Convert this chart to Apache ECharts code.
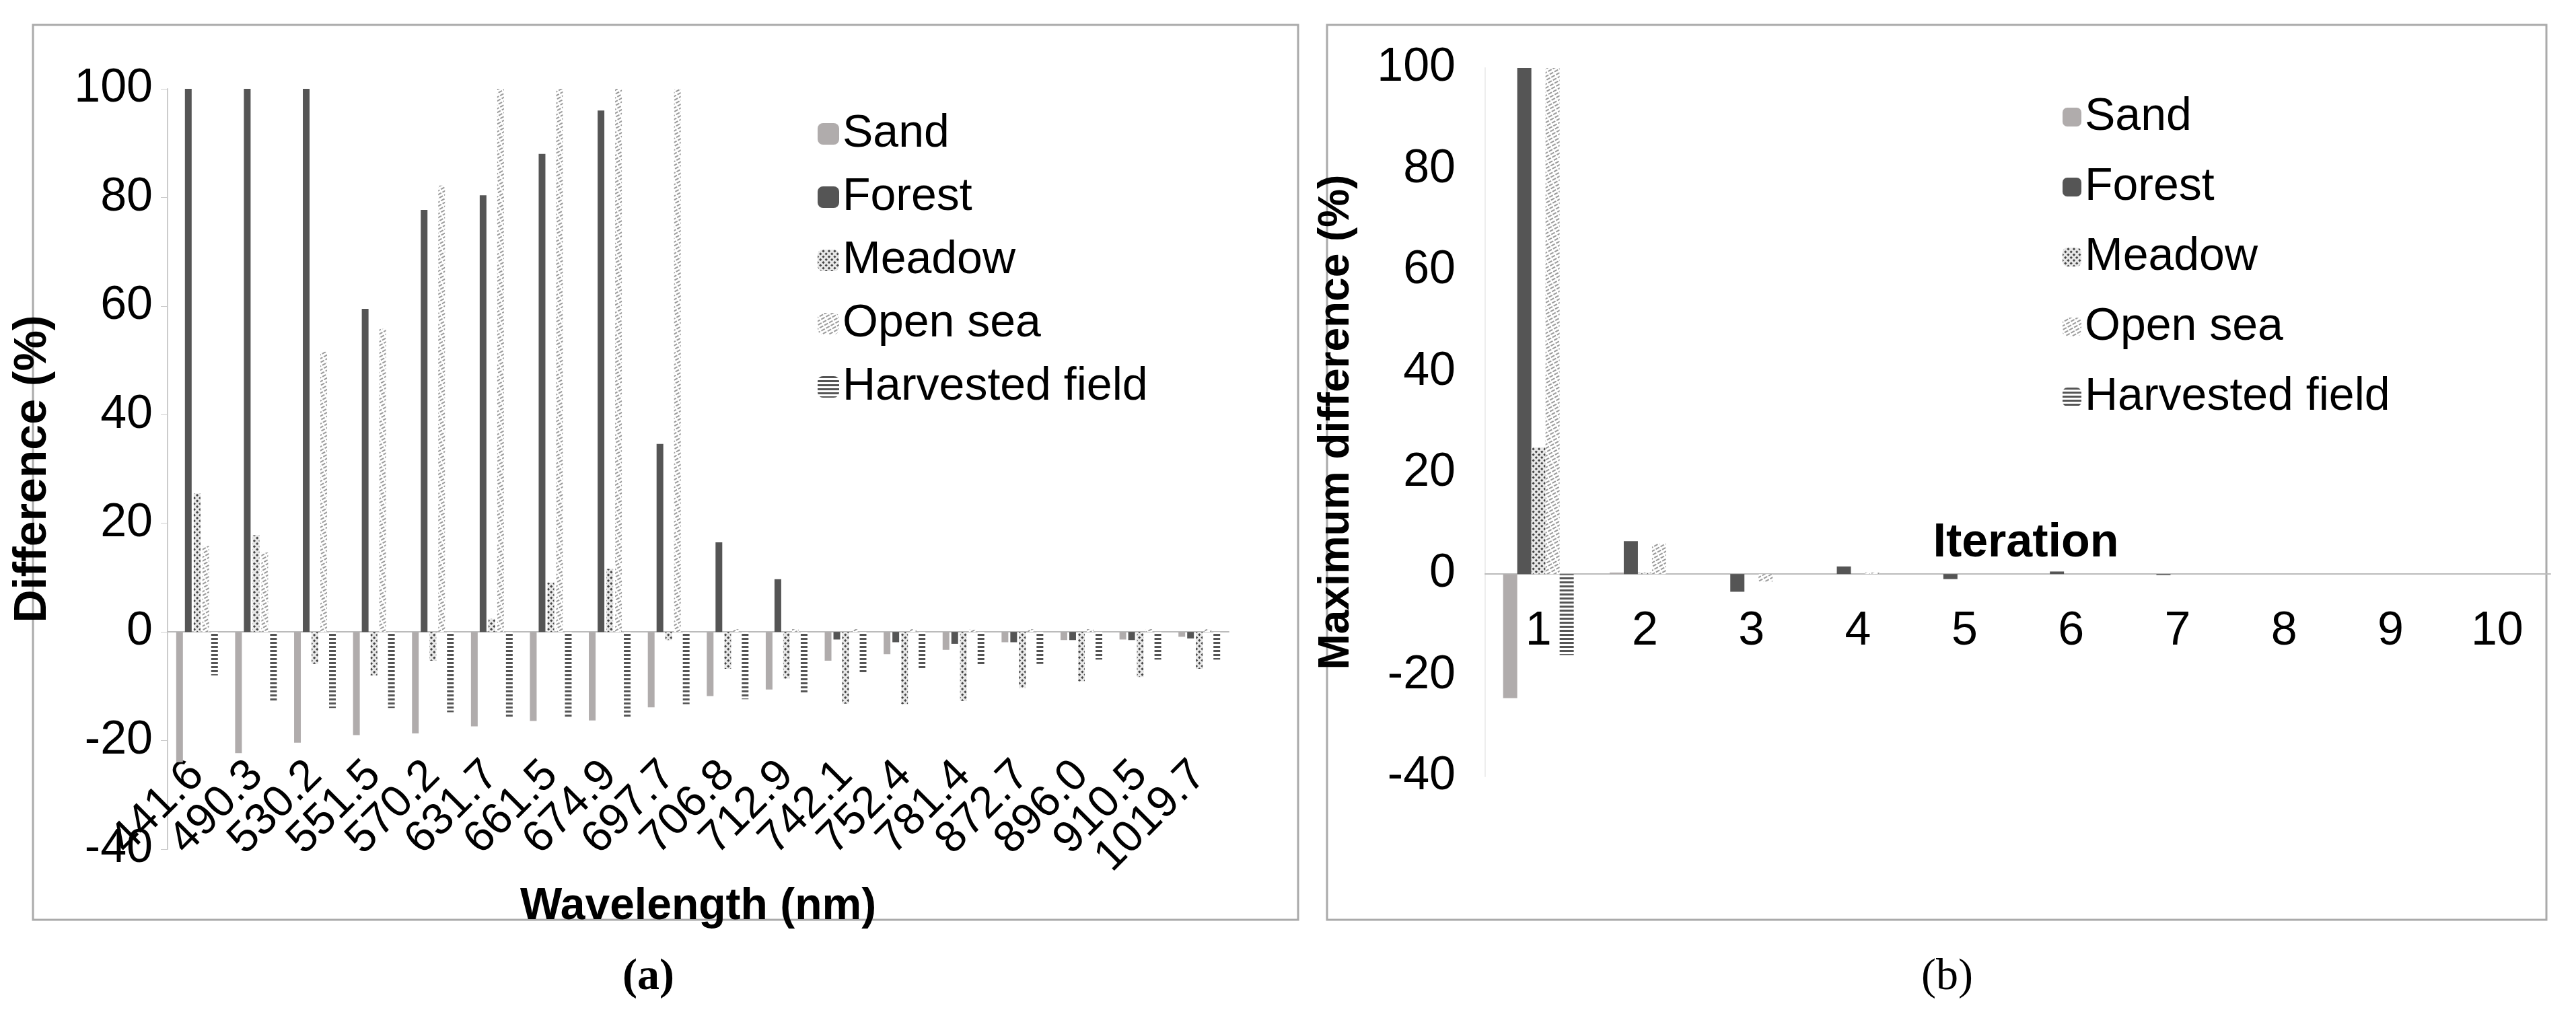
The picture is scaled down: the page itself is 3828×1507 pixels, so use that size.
<!DOCTYPE html>
<html>
<head>
<meta charset="utf-8">
<script src="https://cdn.jsdelivr.net/npm/echarts@6/dist/echarts.min.js"></script>
<style>html,body{margin:0;background:#fff}#c{width:3828px;height:1507px}</style>
</head>
<body>
<div id="c"></div>
<script>
const wavelengths = ['441.6','490.3','530.2','551.5','570.2','631.7','661.5','674.9','697.7','706.8','712.9','742.1','752.4','781.4','872.7','896.0','910.5','1019.7']
const sandA = [-24,-22.3,-20.4,-19,-18.7,-17.4,-16.4,-16.3,-13.9,-11.8,-10.6,-5.3,-4.1,-3.3,-1.9,-1.5,-1.4,-0.9]
const forestA = [100,100,100,59.5,77.7,80.4,88,96,34.6,16.5,9.7,-1.4,-1.9,-2.2,-1.9,-1.5,-1.5,-1.2]
const meadowA = [25.5,17.8,-5.9,-8,-5.3,2.4,9.1,11.6,-1.5,-6.8,-8.6,-13.2,-13.3,-12.7,-10.3,-9.1,-8.3,-6.8]
const openSeaA = [15.8,14.6,51.6,55.8,82.2,100,100,100,100,0.5,0.5,0.5,0.5,0.5,0.5,0.5,0.5,0.5]
const harvestedA = [-8,-12.8,-14,-14,-14.8,-15.8,-15.8,-15.8,-13.3,-12.4,-11.2,-7.7,-7,-6.1,-5.9,-5.1,-5.1,-5.1]

const iterations = ['1','2','3','4','5','6','7','8','9','10']
const sandB = [-24.5,0.3,0,0,0,0,0,0,0,0]
const forestB = [100,6.5,-3.5,1.5,-1,0.5,-0.2,0,0,0]
const meadowB = [25,0.3,0,0,0,0,0,0,0,0]
const openSeaB = [100,6,-1.5,0.3,0,0,0,0,0,0]
const harvestedB = [-16,0,0,0,0,0,0,0,0,0]

const names = ['Sand','Forest','Meadow','Open sea','Harvested field']
const styles = [
  {color:'#b0acac'},
  {color:'#555555'},
  {color:'#e8e8e8', decal:{symbol:'rect', symbolSize:1, color:'#444', dashArrayX:[3,3], dashArrayY:[3,3], rotation:0.785}},
  {color:'#ffffff', decal:{symbol:'rect', symbolSize:1, color:'#9a9a9a', dashArrayX:[[6,2]], dashArrayY:[2,3], rotation:-0.5}},
  {color:'#ffffff', decal:{symbol:'rect', symbolSize:1, color:'#555', dashArrayX:[[1,0]], dashArrayY:[3,3], rotation:0}}
]

const narrow = '"Liberation Sans Narrow", "Liberation Sans", Arial, sans-serif'
const sans = '"Liberation Sans", Arial, sans-serif'

function mk(data, xi, bw, gap) {
  return data.map((d, i) => ({
    type:'bar', name:names[i], data:d, xAxisIndex:xi, yAxisIndex:xi,
    barWidth:bw, barGap:gap, itemStyle:styles[i]
  }))
}

const chart = echarts.init(document.getElementById('c'), null, {renderer:'canvas'})
chart.setOption({
  animation:false,
  aria:{enabled:false},
  graphic:[
    {type:'rect', shape:{x:49,y:37,width:1880,height:1330}, style:{fill:'none', stroke:'#aaa', lineWidth:3}},
    {type:'rect', shape:{x:1972,y:37,width:1812,height:1330}, style:{fill:'none', stroke:'#aaa', lineWidth:3}},
    {type:'text', left:925, top:1420, style:{text:'(a)', font:'bold 66px "Liberation Serif", serif', fill:'#000'}},
    {type:'text', left:2855, top:1420, style:{text:'(b)', font:'66px "Liberation Serif", serif', fill:'#000'}}
  ],
  legend:[
    {data:names, left:1210, top:160, orient:'vertical', itemGap:26, itemWidth:32, itemHeight:32,
     textStyle:{fontSize:68, fontFamily:sans, color:'#000'}},
    {data:names, left:3060, top:135, orient:'vertical', itemGap:36, itemWidth:28, itemHeight:28,
     textStyle:{fontSize:68, fontFamily:narrow, color:'#000'}}
  ],
  grid:[
    {left:249, right:2002, top:132, bottom:245},
    {left:2207, right:38, top:101, bottom:353}
  ],
  xAxis:[
    {type:'category', gridIndex:0, data:wavelengths,
     axisLine:{onZero:true, lineStyle:{color:'#bbb', width:2}}, axisTick:{show:false},
     axisLabel:{rotate:45, margin:-120, fontSize:66, fontFamily:sans, color:'#000', interval:0},
     name:'Wavelength (nm)', nameLocation:'middle', nameGap:42,
     nameTextStyle:{fontSize:66, fontWeight:'bold', fontFamily:sans, color:'#000', verticalAlign:'middle'}},
    {type:'category', gridIndex:1, data:iterations,
     axisLine:{onZero:true, lineStyle:{color:'#bbb', width:2}}, axisTick:{show:false},
     axisLabel:{margin:-250, fontSize:70, fontFamily:narrow, color:'#000', interval:0},
     name:'Iteration', nameLocation:'middle', nameGap:-346,
     nameTextStyle:{fontSize:70, fontWeight:'bold', fontFamily:narrow, color:'#000', verticalAlign:'middle', padding:[0,0,0,24]}}
  ],
  yAxis:[
    {type:'value', gridIndex:0, min:-40, max:100, interval:20,
     axisLine:{show:true, lineStyle:{color:'#ccc', width:2}}, axisTick:{show:true, length:10, lineStyle:{color:'#ccc'}},
     splitLine:{show:false},
     axisLabel:{fontSize:70, fontFamily:sans, color:'#000', margin:22},
     name:'Difference (%)', nameLocation:'middle', nameGap:166,
     nameTextStyle:{fontSize:68, fontWeight:'bold', fontFamily:sans, color:'#000'}},
    {type:'value', gridIndex:1, min:-40, max:100, interval:20,
     axisLine:{show:true, lineStyle:{color:'#eee', width:2}}, axisTick:{show:false},
     splitLine:{show:false},
     axisLabel:{fontSize:70, fontFamily:narrow, color:'#000', margin:44},
     name:'Maximum difference (%)', nameLocation:'middle', nameGap:189,
     nameTextStyle:{fontSize:64, fontWeight:'bold', fontFamily:sans, color:'#000'}}
  ],
  series:[
    ...mk([sandA, forestA, meadowA, openSeaA, harvestedA], 0, 10, '30%'),
    ...mk([sandB, forestB, meadowB, openSeaB, harvestedB], 1, 21, '0%')
  ]
})
</script>
</body>
</html>
